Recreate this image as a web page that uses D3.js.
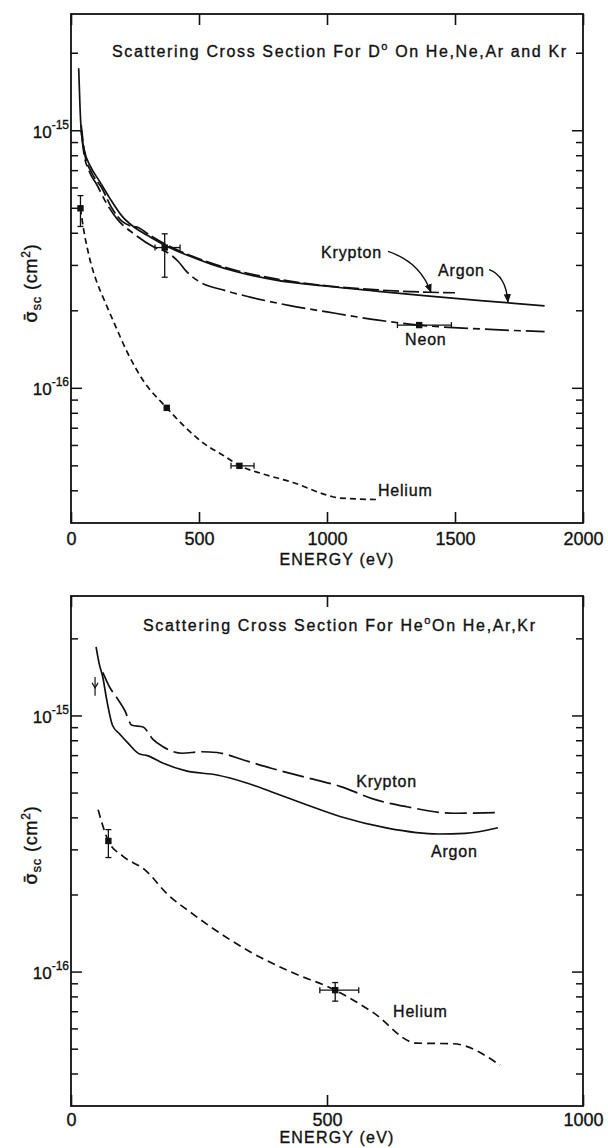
<!DOCTYPE html>
<html>
<head>
<meta charset="utf-8">
<script src="https://cdn.jsdelivr.net/npm/d3@7/dist/d3.min.js"></script>
<style>
body { margin: 0; background: #fff; }
svg { display: block; }
text { font-family: "Liberation Sans", Arial, sans-serif; fill: #111; stroke: #111; stroke-width: 0.35px; }
</style>
</head>
<body>
<svg id="chart" width="608" height="1148"></svg>
<script>
// ---- top panel: D0 on He, Ne, Ar, Kr  (energy eV, cross section cm2)
var topArgon = [[30,1.75e-15],[35,1.25e-15],[40,1.0e-15],[52,8.4e-16],[75,7.3e-16],[110,6.4e-16],[150,5.5e-16],[200,4.65e-16],[250,4.2e-16],[300,3.92e-16],[370,3.58e-16],[450,3.3e-16],[550,3.03e-16],[650,2.83e-16],[800,2.63e-16],[1000,2.49e-16],[1200,2.38e-16],[1400,2.28e-16],[1600,2.19e-16],[1700,2.15e-16],[1850,2.09e-16]];
var topKrypton = [[40,1.05e-15],[55,8.0e-16],[80,6.9e-16],[120,6.0e-16],[160,5.0e-16],[200,4.45e-16],[230,4.28e-16],[265,4.2e-16],[300,3.98e-16],[370,3.62e-16],[450,3.33e-16],[550,3.06e-16],[650,2.86e-16],[800,2.66e-16],[1000,2.5e-16],[1200,2.41e-16],[1400,2.36e-16],[1500,2.35e-16]];
var topNeon = [[40,1.0e-15],[50,8.2e-16],[70,7.0e-16],[100,6.2e-16],[140,5.2e-16],[180,4.55e-16],[250,3.95e-16],[320,3.55e-16],[380,3.35e-16],[420,3.1e-16],[450,2.85e-16],[500,2.6e-16],[600,2.4e-16],[700,2.26e-16],[850,2.1e-16],[1000,1.98e-16],[1200,1.84e-16],[1360,1.76e-16],[1600,1.7e-16],[1850,1.66e-16]];
var topHelium = [[37,5.0e-16],[50,4.1e-16],[65,3.45e-16],[80,3.0e-16],[100,2.6e-16],[130,2.2e-16],[170,1.78e-16],[220,1.38e-16],[280,1.08e-16],[374,8.4e-17],[450,7.0e-17],[520,6.1e-17],[600,5.45e-17],[660,5.0e-17],[750,4.65e-17],[870,4.3e-17],[1000,3.85e-17],[1050,3.75e-17],[1200,3.7e-17]];

// measured points: energy, sigma, energy error range, sigma error range
var topPoints = [
  {e: 366, s: 3.52e-16, ex: [328, 426], sy: [2.7e-16, 3.98e-16]},
  {e: 1360, s: 1.76e-16, ex: [1275, 1486], sy: null},
  {e: 37, s: 5.0e-16, ex: null, sy: [4.25e-16, 5.6e-16]},
  {e: 374, s: 8.4e-17, ex: null, sy: null},
  {e: 658, s: 5.0e-17, ex: [625, 715], sy: null}
];

// ---- bottom panel: He0 on He, Ar, Kr
var botArgon = [[49,1.86e-15],[55,1.6e-15],[62,1.42e-15],[70,1.15e-15],[81,9.2e-16],[95,8.5e-16],[111,7.85e-16],[134,7.1e-16],[149,7.0e-16],[179,6.55e-16],[225,6.1e-16],[285,5.88e-16],[340,5.5e-16],[391,5.06e-16],[460,4.5e-16],[527,4.04e-16],[618,3.65e-16],[717,3.46e-16],[770,3.48e-16],[834,3.66e-16]];
var botKrypton = [[62,1.48e-15],[66,1.42e-15],[75,1.3e-15],[88,1.19e-15],[105,1.05e-15],[119,9.2e-16],[141,9.05e-16],[160,8.1e-16],[179,7.6e-16],[217,7.15e-16],[255,7.25e-16],[285,7.2e-16],[340,6.7e-16],[391,6.25e-16],[460,5.75e-16],[527,5.3e-16],[596,4.7e-16],[656,4.42e-16],[747,4.17e-16],[838,4.2e-16]];
var botHelium = [[53,4.3e-16],[73,3.25e-16],[100,2.85e-16],[145,2.5e-16],[190,2.0e-16],[232,1.72e-16],[300,1.38e-16],[353,1.19e-16],[430,1.0e-16],[516,8.5e-17],[588,7.0e-17],[675,5.28e-17],[747,5.25e-17],[838,4.33e-17]];

var botPoints = [
  {e: 73, s: 3.25e-16, ex: null, sy: [2.8e-16, 3.6e-16]},
  {e: 516, s: 8.5e-17, ex: [486, 562], sy: [7.7e-17, 9.1e-17]}
];
var botKrMark = {e: 47, s: 1.31e-15, sy: [1.2e-15, 1.42e-15]};

// axes
var topXTicks = [0, 500, 1000, 1500, 2000];
var botXTicks = [0, 500, 1000];
var yDecades = [1e-15, 1e-16];

// annotations (anchor in data units)
var topLabels = [
  {text: 'Krypton', e: 977, s: 3.22e-16},
  {text: 'Argon', e: 1434, s: 2.72e-16},
  {text: 'Neon', e: 1305, s: 1.47e-16},
  {text: 'Helium', e: 1199, s: 3.81e-17}
];
var topArrows = [
  [[1238, 3.4e-16], [1363, 3.1e-16], [1406, 2.36e-16]],
  [[1633, 2.89e-16], [1699, 2.74e-16], [1707, 2.16e-16]]
];
var botLabels = [
  {text: 'Krypton', e: 557, s: 5.28e-16},
  {text: 'Argon', e: 703, s: 2.81e-16},
  {text: 'Helium', e: 629, s: 6.67e-17}
];

var svg = d3.select('#chart');
var ink = '#111';

svg.append('defs').append('marker')
    .attr('id', 'arrow')
    .attr('viewBox', '0 0 10 10')
    .attr('refX', 9).attr('refY', 5)
    .attr('markerWidth', 9).attr('markerHeight', 9)
    .attr('markerUnits', 'userSpaceOnUse')
    .attr('orient', 'auto')
  .append('path')
    .attr('d', 'M0,1 L10,5 L0,9 Z')
    .attr('fill', ink);

function drawPanel(p){
    var x = d3.scaleLinear().domain([0, p.xMax]).range([71, 583]);
    var y = d3.scaleLog().domain(p.yDomain).range([p.bottom, p.top]);
    var g = svg.append('g');

    // frame
    g.append('rect')
        .attr('x', 71).attr('y', p.top)
        .attr('width', 512).attr('height', p.bottom - p.top)
        .attr('fill', 'none').attr('stroke', ink).attr('stroke-width', 1.8);

    // x ticks, inward on bottom and top
    var xb = g.append('g').attr('transform', 'translate(0,' + p.bottom + ')')
        .call(d3.axisBottom(x).tickValues(p.xTicks).tickSize(-11).tickPadding(p.labelPad).tickFormat(d3.format('d')));
    var xt = g.append('g').attr('transform', 'translate(0,' + p.top + ')')
        .call(d3.axisTop(x).tickValues(p.xTicks).tickSize(-11).tickFormat(''));
    [xb, xt].forEach(function(a){
        a.select('.domain').remove();
        a.selectAll('line').attr('stroke', ink).attr('stroke-width', 1.6);
    });
    xb.selectAll('text').attr('font-size', 18).attr('font-family', '"Liberation Sans", Arial, sans-serif').attr('fill', ink);

    g.append('text')
        .attr('x', 337).attr('y', p.bottom + p.energyDy)
        .attr('text-anchor', 'middle')
        .attr('font-size', 16).attr('letter-spacing', 1.2)
        .text('ENERGY (eV)');

    // y ticks, minor and decade, on both sides
    var lo = p.yDomain[0], hi = p.yDomain[1];
    var yt = y.ticks().filter(function(d){ return d > lo * 1.001 && d < hi * 0.999; });
    yt.forEach(function(d){
        var major = yDecades.indexOf(d) >= 0;
        var len = major ? 11 : 7;
        g.append('line').attr('x1', 71).attr('x2', 71 + len)
            .attr('y1', y(d)).attr('y2', y(d)).attr('stroke', ink).attr('stroke-width', 1.5);
        g.append('line').attr('x1', 583).attr('x2', 583 - len)
            .attr('y1', y(d)).attr('y2', y(d)).attr('stroke', ink).attr('stroke-width', 1.5);
    });
    yDecades.forEach(function(d){
        var t = g.append('text')
            .attr('x', 69).attr('y', y(d) + 7)
            .attr('text-anchor', 'end')
            .attr('font-size', 17);
        t.append('tspan').text('10');
        t.append('tspan').attr('dy', -9).attr('font-size', 12)
            .text('-' + Math.round(-Math.log10(d)));
    });

    // y title
    var yl = g.append('text')
        .attr('transform', 'translate(37,' + p.titleY + ') rotate(-90)')
        .attr('text-anchor', 'middle')
        .attr('font-size', 18).attr('letter-spacing', 0.8);
    yl.append('tspan').attr('font-family', '"DejaVu Sans", sans-serif').text('\u03c3\u0304');
    yl.append('tspan').attr('dy', 4).attr('font-size', 13).text('sc');
    yl.append('tspan').attr('dy', -4).text(' (cm');
    yl.append('tspan').attr('dy', -7).attr('font-size', 12).text('2');
    yl.append('tspan').attr('dy', 7).text(')');

    // heading
    var h = g.append('text')
        .attr('x', p.head.x).attr('y', p.head.y)
        .attr('font-size', 16)
        .attr('textLength', p.head.w).attr('lengthAdjust', 'spacing');
    h.append('tspan').text(p.head.a);
    h.append('tspan').attr('dy', -7).attr('font-size', 11).text('o');
    h.append('tspan').attr('dy', 7).text(p.head.b);

    // curves
    var line = d3.line()
        .x(function(d){ return x(d[0]); })
        .y(function(d){ return y(d[1]); })
        .curve(d3.curveMonotoneX);
    p.series.forEach(function(s){
        g.append('path')
            .datum(s.data)
            .attr('d', line)
            .attr('fill', 'none')
            .attr('stroke', ink)
            .attr('stroke-width', 1.7)
            .attr('stroke-dasharray', s.dash);
    });

    // measured points with error bars
    p.points.forEach(function(pt){
        var cx = x(pt.e), cy = y(pt.s);
        if(pt.ex){
            g.append('line').attr('x1', x(pt.ex[0])).attr('x2', x(pt.ex[1]))
                .attr('y1', cy).attr('y2', cy).attr('stroke', ink).attr('stroke-width', 1.3);
            pt.ex.forEach(function(v){
                g.append('line').attr('x1', x(v)).attr('x2', x(v))
                    .attr('y1', cy - 3).attr('y2', cy + 3).attr('stroke', ink).attr('stroke-width', 1.3);
            });
        }
        if(pt.sy){
            g.append('line').attr('x1', cx).attr('x2', cx)
                .attr('y1', y(pt.sy[0])).attr('y2', y(pt.sy[1])).attr('stroke', ink).attr('stroke-width', 1.3);
            pt.sy.forEach(function(v){
                g.append('line').attr('x1', cx - 3).attr('x2', cx + 3)
                    .attr('y1', y(v)).attr('y2', y(v)).attr('stroke', ink).attr('stroke-width', 1.3);
            });
        }
        g.append('rect').attr('x', cx - 3.2).attr('y', cy - 3.2)
            .attr('width', 6.4).attr('height', 6.4).attr('fill', ink);
    });

    // labels
    p.labels.forEach(function(l){
        g.append('text')
            .attr('x', x(l.e)).attr('y', y(l.s))
            .attr('font-size', 16).attr('letter-spacing', 0.8)
            .text(l.text);
    });
    (p.arrows || []).forEach(function(a){
        var path = d3.path();
        path.moveTo(x(a[0][0]), y(a[0][1]));
        path.quadraticCurveTo(x(a[1][0]), y(a[1][1]), x(a[2][0]), y(a[2][1]));
        g.append('path').attr('d', path.toString())
            .attr('fill', 'none').attr('stroke', ink).attr('stroke-width', 1.4)
            .attr('marker-end', 'url(#arrow)');
    });

    return {x: x, y: y, g: g};
}

drawPanel({
    top: 14, bottom: 523, xMax: 2000, yDomain: [3e-17, 2.84e-15],
    xTicks: topXTicks, labelPad: 9, energyDy: 42, titleY: 283,
    head: {x: 112, y: 57, w: 454, a: 'Scattering Cross Section For D', b: ' On He,Ne,Ar and Kr'},
    series: [
        {data: topArgon, dash: null},
        {data: topKrypton, dash: '16,4'},
        {data: topNeon, dash: '24,5,7,5'},
        {data: topHelium, dash: '6,4'}
    ],
    points: topPoints, labels: topLabels, arrows: topArrows
});

var bot = drawPanel({
    top: 596, bottom: 1106, xMax: 1000, yDomain: [3e-17, 2.94e-15],
    xTicks: botXTicks, labelPad: 7, energyDy: 37, titleY: 845,
    head: {x: 143, y: 631, w: 392, a: 'Scattering Cross Section For He', b: 'On He,Ar,Kr'},
    series: [
        {data: botArgon, dash: null},
        {data: botKrypton, dash: '22,6'},
        {data: botHelium, dash: '8,5'}
    ],
    points: botPoints, labels: botLabels
});

// small krypton marker near threshold
var kx = bot.x(botKrMark.e), ky = bot.y(botKrMark.s);
bot.g.append('line').attr('x1', kx).attr('x2', kx)
    .attr('y1', bot.y(botKrMark.sy[0])).attr('y2', bot.y(botKrMark.sy[1]))
    .attr('stroke', ink).attr('stroke-width', 1.2);
bot.g.append('path')
    .attr('d', 'M' + (kx - 3) + ',' + (ky - 3) + 'L' + kx + ',' + (ky + 2) + 'L' + (kx + 3) + ',' + (ky - 3))
    .attr('fill', 'none').attr('stroke', ink).attr('stroke-width', 1.2);
</script>
</body>
</html>
